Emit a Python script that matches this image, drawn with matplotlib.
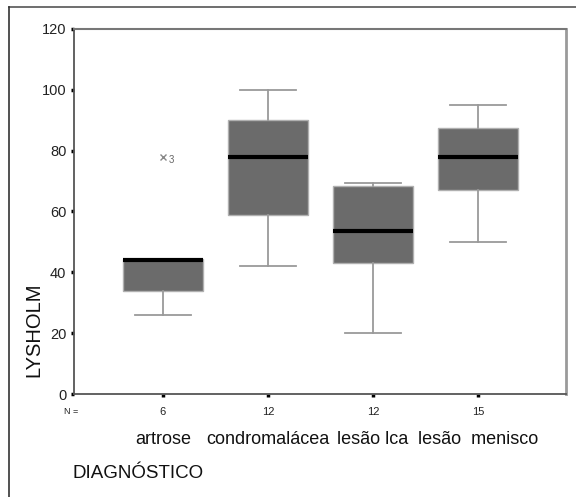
import matplotlib.pyplot as plt
from matplotlib.lines import Line2D
from matplotlib.transforms import blended_transform_factory

plt.rcParams['font.family'] = ['Liberation Sans', 'DejaVu Sans']

categories = ['artrose', 'condromalácea', 'lesão lca', 'lesão  menisco']
counts = [6, 12, 12, 15]
whislo = [26, 42, 20, 50]
q1 = [34, 59, 43, 67]
med = [44, 78, 53.5, 78]
q3 = [44.5, 90, 68.5, 87.5]
whishi = [44.5, 100, 69.5, 95]
outliers = [[78], [], [], []]
outlier_ids = [['3'], [], [], []]
yticks = [0, 20, 40, 60, 80, 100, 120]

fig = plt.figure(figsize=(5.76, 4.97), dpi=100)
ax = fig.add_axes([74/576, 1-394/497, (566-74)/576, (394-29)/497])

stats = []
for i in range(len(categories)):
    stats.append(dict(med=med[i], q1=q1[i], q3=q3[i], whislo=whislo[i],
                      whishi=whishi[i], fliers=[]))
pos = list(range(1, len(categories)+1))
ax.bxp(stats, positions=pos, widths=0.76, capwidths=0.53, patch_artist=True,
       showfliers=False,
       boxprops=dict(facecolor='#6b6b6b', edgecolor='#b0b0b0', linewidth=1),
       medianprops=dict(color='black', linewidth=3, solid_capstyle='butt'),
       whiskerprops=dict(color='#9a9a9a', linewidth=1.3),
       capprops=dict(color='#9a9a9a', linewidth=1.3))

for i, vals in enumerate(outliers):
    for v, lab in zip(vals, outlier_ids[i]):
        ax.plot(pos[i], v, marker='x', color='#888888', markersize=5, mew=1)
        ax.text(pos[i] + 0.05, v - 1, lab, fontsize=7, color='#666666',
                va='center', ha='left')

ax.set_xlim(0.152, 4.84)
ax.set_ylim(0, 120)
ax.set_yticks(yticks)
ax.set_yticklabels([str(t) for t in yticks], fontsize=10.5, color='#222222')
ax.tick_params(axis='y', direction='out', length=2.5, width=2.5, color='black', pad=3)
ax.set_xticks(pos)
ax.set_xticklabels([])
ax.tick_params(axis='x', direction='out', length=2.5, width=2.5, color='black')

for s in ['left', 'bottom']:
    ax.spines[s].set_color('#555555')
    ax.spines[s].set_linewidth(1.3)
ax.spines['top'].set_color('#777777')
ax.spines['top'].set_linewidth(1.5)
ax.spines['right'].set_color('#9a9a9a')
ax.spines['right'].set_linewidth(2)

tr = blended_transform_factory(ax.transData, ax.transAxes)
for i, (c, n) in enumerate(zip(categories, counts)):
    ax.text(pos[i], -0.049, str(n), transform=tr, fontsize=8, ha='center',
            va='center', color='#222222')
    ax.text(pos[i], -0.126, c, transform=tr, fontsize=13, ha='center',
            va='center', color='#111111')
fig.text(71/576, 1-412/497, 'N =', fontsize=6.5, ha='center', va='center', color='#222222')

fig.text(34/576, 1-330/497, 'LYSHOLM', rotation=90, fontsize=14.5,
         ha='center', va='center', color='#111111')
fig.text(72/576, 1-474/497, 'DIAGNÓSTICO', fontsize=13.5, ha='left',
         va='center', color='#111111')

# outer frame
fig.add_artist(Line2D([9/576, 1], [1-7/497, 1-7/497], transform=fig.transFigure,
                      color='#555555', linewidth=1.2))
fig.add_artist(Line2D([9/576, 9/576], [0, 1-7/497], transform=fig.transFigure,
                      color='#333333', linewidth=1.2))

fig.savefig('out.png', dpi=100)
